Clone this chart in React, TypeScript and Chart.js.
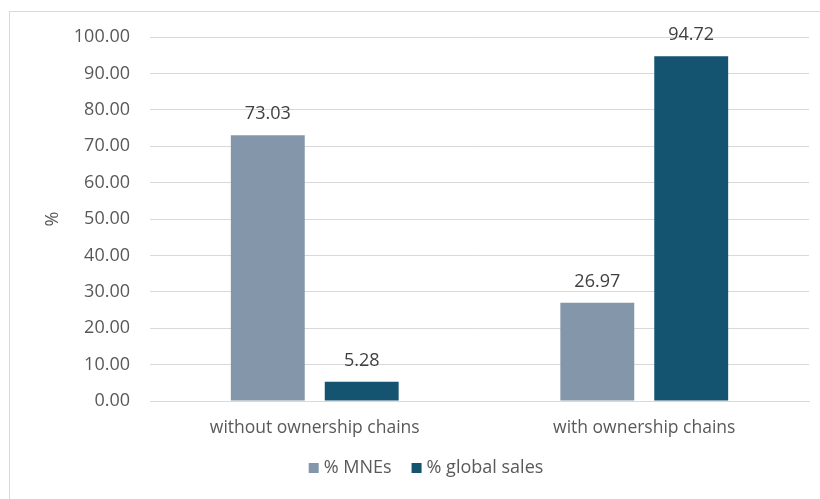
import React, { useEffect, useRef } from "react";
import { Chart, registerables } from "chart.js";

Chart.register(...registerables);

const categories = ["without ownership chains", "with ownership chains"];
const mnesValues = [73.03, 26.97];
const salesValues = [5.28, 94.72];
const seriesLabels = ["% MNEs", "% global sales"];
const seriesColors = ["#8497aa", "#145470"];

const FONT = "'Open Sans', sans-serif";

const labelPlugin = {
  id: "valueLabels",
  afterDatasetsDraw(chart: any) {
    const ctx = chart.ctx;
    ctx.save();
    ctx.font = `18px ${FONT}`;
    ctx.fillStyle = "#404040";
    ctx.textAlign = "center";
    ctx.textBaseline = "middle";
    chart.data.datasets.forEach((ds: any, i: number) => {
      const meta = chart.getDatasetMeta(i);
      meta.data.forEach((el: any, j: number) => {
        ctx.fillText(Number(ds.data[j]).toFixed(2), el.x, el.y - 21);
      });
    });
    ctx.restore();
  },
};

const legendPlugin = {
  id: "customLegend",
  afterDraw(chart: any) {
    const ctx = chart.ctx;
    ctx.save();
    ctx.font = `18px ${FONT}`;
    const box = 10;
    const gapBoxText = 5;
    const gapItems = 20;
    const items = chart.data.datasets.map((ds: any) => ({
      label: ds.label,
      color: ds.backgroundColor,
      w: ctx.measureText(ds.label).width,
    }));
    const total = items.reduce((s: number, it: any) => s + box + gapBoxText + it.w, 0) + gapItems * (items.length - 1);
    let x = 426 - total / 2;
    const y = 468;
    ctx.textBaseline = "middle";
    ctx.textAlign = "left";
    items.forEach((it: any) => {
      ctx.fillStyle = it.color;
      ctx.fillRect(x, y - box / 2, box, box);
      x += box + gapBoxText;
      ctx.fillStyle = "#595959";
      ctx.fillText(it.label, x, y);
      x += it.w + gapItems;
    });
    ctx.restore();
  },
};

export default function App() {
  const ref = useRef<HTMLCanvasElement>(null);
  useEffect(() => {
    if (!ref.current) return;
    const chart = new Chart(ref.current, {
      type: "bar",
      data: {
        labels: categories,
        datasets: [
          { label: seriesLabels[0], data: mnesValues, backgroundColor: seriesColors[0] },
          { label: seriesLabels[1], data: salesValues, backgroundColor: seriesColors[1] },
        ],
      },
      options: {
        animation: false,
        responsive: false,
        events: [],
        layout: { padding: { top: 37, right: 11, left: 0, bottom: 0 } },
        datasets: { bar: { categoryPercentage: 0.57, barPercentage: 0.787 } },
        plugins: { legend: { display: false }, tooltip: { enabled: false } },
        scales: {
          x: {
            grid: { display: false, drawTicks: false },
            border: { display: true, color: "#d9d9d9" },
            ticks: { color: "#595959", font: { family: FONT, size: 17.5 }, padding: 17 },
            afterFit: (s: any) => { s.height = 98; },
          },
          y: {
            min: 0,
            max: 100,
            ticks: {
              stepSize: 10,
              color: "#595959",
              font: { family: FONT, size: 18 },
              padding: 20,
              callback: (v: any) => Number(v).toFixed(2),
            },
            grid: { color: "#d9d9d9", drawTicks: false },
            border: { display: false },
            title: { display: true, text: "%", color: "#595959", font: { family: FONT, size: 18 }, padding: { top: 42, bottom: 0 } },
            afterFit: (s: any) => { s.width = 150; },
          },
        },
      },
      plugins: [labelPlugin, legendPlugin],
    });
    return () => chart.destroy();
  }, []);
  return (
    <div style={{ position: "absolute", left: 0, top: 0, width: 820, height: 499, overflow: "hidden", background: "#fff" }}>
      <div style={{ position: "absolute", left: 9, top: 11, width: 840, height: 520, border: "1px solid #d9d9d9", boxSizing: "border-box" }} />
      <canvas ref={ref} width={820} height={499} style={{ position: "absolute", left: 0, top: 0, width: 820, height: 499 }} />
    </div>
  );
}
